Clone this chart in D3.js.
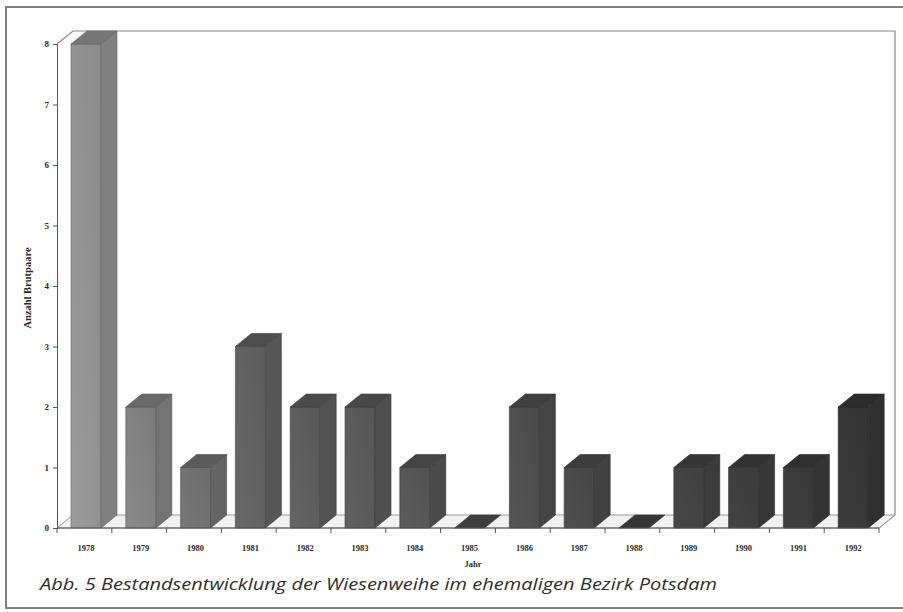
<!DOCTYPE html>
<html>
<head>
<meta charset="utf-8">
<script src="https://cdn.jsdelivr.net/npm/d3@7"></script>
<style>
  html, body { margin: 0; padding: 0; background: #ffffff; }
  svg { display: block; }
</style>
</head>
<body>
<svg id="chart" width="903" height="612"></svg>
<script>
// Bestand der Wiesenweihe (Brutpaare) je Jahr
const years = ["1978","1979","1980","1981","1982","1983","1984","1985","1986","1987","1988","1989","1990","1991","1992"];
const pairs = [8, 2, 1, 3, 2, 2, 1, 0, 2, 1, 0, 1, 1, 1, 2];
const yTicks = [0, 1, 2, 3, 4, 5, 6, 7, 8];
const yTitle = "Anzahl Brutpaare";
const xTitle = "Jahr";
const caption = "Abb. 5 Bestandsentwicklung der Wiesenweihe im ehemaligen Bezirk Potsdam";

(function () {
const svg = d3.select("#chart");

// plot frame (front face of the 3D box)
const plotLeft = 57, plotRight = 879, plotBottom = 528, plotTop = 44;
const depthX = 16, depthY = 13;

const x = d3.scaleBand().domain(years).range([plotLeft, plotRight]).paddingInner(0).paddingOuter(0);
const y = d3.scaleLinear().domain([0, 8]).range([plotBottom, plotTop]);

// outer border
svg.append("path")
  .attr("d", `M907,7 H6 V608 H907`)
  .attr("fill", "none").attr("stroke", "#808080").attr("stroke-width", 2);

// back wall outline
svg.append("path").attr("d",
  `M${plotLeft},${y(8)} L${plotLeft + depthX},${y(8) - depthY} H${plotRight + depthX} V${plotBottom - depthY} L${plotRight},${plotBottom}`)
  .attr("fill", "none").attr("stroke", "#8a8a8a").attr("stroke-width", 1.2);

// floor
svg.append("path")
  .attr("d", `M${plotLeft},${plotBottom} L${plotLeft + depthX},${plotBottom - depthY} H${plotRight + depthX} L${plotRight},${plotBottom} Z`)
  .attr("fill", "#f1f1f1").attr("stroke", "#9a9a9a").attr("stroke-width", 1);

// bars
const fillScale = d3.scaleLinear().domain([0, 3, years.length - 1]).range(["#8a8a8a", "#5c5c5c", "#343434"]);
const barOffset = 14, barWidth = 30;
const defs = svg.append("defs");

const bars = svg.append("g");
years.forEach((yr, i) => {
  const v = pairs[i];
  const x0 = x(yr) + barOffset, x1 = x0 + barWidth;
  const yt = y(v), yb = y(0);
  const base = d3.color(fillScale(i));
  const g = bars.append("g").attr("stroke", base.darker(0.9)).attr("stroke-width", 0.6);
  if (v > 0) {
    // front face with light-to-dark shading
    const gid = "grad" + i;
    const grad = defs.append("linearGradient").attr("id", gid)
      .attr("x1", 0).attr("x2", 1).attr("y1", 1).attr("y2", 0);
    grad.append("stop").attr("offset", 0).attr("stop-color", base.brighter(0.35));
    grad.append("stop").attr("offset", 1).attr("stop-color", base);
    g.append("path")
      .attr("d", `M${x0},${yb} V${yt} H${x1} V${yb} Z`)
      .attr("fill", `url(#${gid})`);
    // side face
    g.append("path")
      .attr("d", `M${x1},${yb} V${yt} L${x1 + depthX},${yt - depthY} V${yb - depthY} Z`)
      .attr("fill", base.darker(0.2));
  }
  // top face
  g.append("path")
    .attr("d", `M${x0},${yt} H${x1} L${x1 + depthX},${yt - depthY} H${x0 + depthX} Z`)
    .attr("fill", v > 0 ? base.darker(0.45) : base.darker(0.6));
});

// front floor edge and x ticks
const axisG = svg.append("g").attr("stroke", "#555").attr("stroke-width", 1);
axisG.append("line").attr("x1", plotLeft).attr("x2", plotRight).attr("y1", plotBottom).attr("y2", plotBottom);
d3.range(years.length + 1).forEach(k => {
  const xx = plotLeft + k * x.bandwidth();
  axisG.append("line").attr("x1", xx).attr("x2", xx).attr("y1", plotBottom).attr("y2", plotBottom + 5);
});

// y axis
const yAxis = d3.axisLeft(y).tickValues(yTicks).tickSize(4).tickPadding(4).tickFormat(d3.format("d"));
const yg = svg.append("g").attr("transform", `translate(${plotLeft},0)`).call(yAxis);
yg.select(".domain").attr("stroke", "#555");
yg.selectAll(".tick line").attr("stroke", "#555");
yg.selectAll(".tick text")
  .attr("font-family", "Liberation Serif, serif").attr("font-weight", "bold")
  .attr("font-size", 9).attr("fill", "#2a2a2a");

// year labels under each bar
svg.append("g").selectAll("text").data(years).join("text")
  .attr("x", d => x(d) + barOffset + barWidth / 2)
  .attr("y", 551)
  .attr("text-anchor", "middle")
  .attr("font-family", "Liberation Serif, serif").attr("font-weight", "bold")
  .attr("font-size", 8.5).attr("fill", "#2a2a2a")
  .text(d => d);

// axis titles
svg.append("text")
  .attr("x", 473).attr("y", 567)
  .attr("text-anchor", "middle")
  .attr("font-family", "Liberation Serif, serif").attr("font-weight", "bold")
  .attr("font-size", 8.5).attr("fill", "#2a2a2a")
  .text(xTitle);

svg.append("text")
  .attr("transform", "translate(31,288) rotate(-90)")
  .attr("text-anchor", "middle")
  .attr("font-family", "Liberation Serif, serif").attr("font-weight", "bold")
  .attr("font-size", 10.5).attr("fill", "#2a2a2a")
  .text(yTitle);

// caption
svg.append("text")
  .attr("x", 40).attr("y", 590)
  .attr("font-family", "Open Sans, sans-serif").attr("font-style", "italic")
  .attr("font-weight", 500)
  .attr("font-size", 16).attr("fill", "#2e2e2e")
  .attr("textLength", 677).attr("lengthAdjust", "spacingAndGlyphs")
  .text(caption);
})();
</script>
</body>
</html>
